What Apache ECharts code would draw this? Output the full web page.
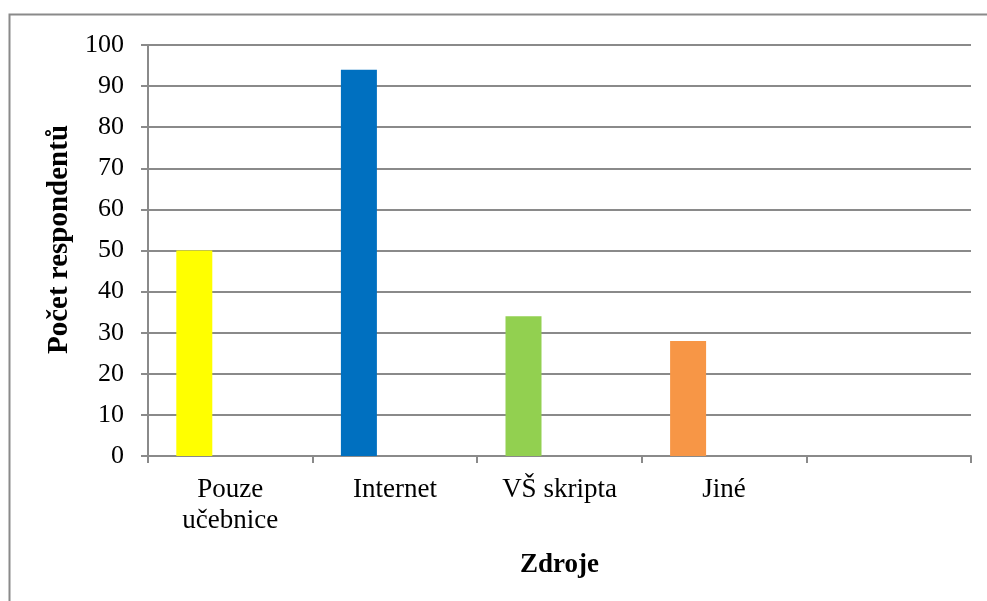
<!DOCTYPE html>
<html>
<head>
<meta charset="utf-8">
<script src="https://cdn.jsdelivr.net/npm/echarts@6/dist/echarts.min.js"></script>
<style>
  html, body { margin: 0; padding: 0; background: #fff; }
  #chart { width: 987px; height: 601px; }
</style>
</head>
<body>
<div id="chart"></div>
<script>
// kategorie a hodnoty (poslední kategorie je v originále prázdná)
const categories = ['Pouze\nučebnice', 'Internet', 'VŠ skripta', 'Jiné', '']
const values = [50, 94, 34, 28, '-']
const barColors = ['#FFFF00', '#0070C0', '#92D050', '#F79646', '#FFFFFF']
const emptySeries = ['-', '-', '-', '-', '-']

const yMin = 0
const yMax = 100
const yStep = 10

const gridGray = '#8a8a8a'
const font = '"Liberation Serif", "Times New Roman", serif'

const chart = echarts.init(document.getElementById('chart'), null, { renderer: 'canvas' })

chart.setOption({
  backgroundColor: '#fff',
  animation: false,
  graphic: [
    {
      // rámeček grafu (pravá a dolní hrana jsou mimo obrázek)
      type: 'rect',
      left: 7,
      top: 12,
      shape: { width: 1000, height: 620 },
      style: { fill: 'none', stroke: '#8a8a8a', lineWidth: 2 },
      silent: true
    }
  ],
  grid: {
    left: 148,
    top: 45,
    right: 16,
    bottom: 145
  },
  xAxis: {
    type: 'category',
    data: categories,
    boundaryGap: true,
    name: 'Zdroje',
    nameLocation: 'middle',
    nameGap: 96,
    nameTextStyle: {
      fontFamily: font,
      fontSize: 27,
      fontWeight: 'bold',
      color: '#000'
    },
    axisLine: { lineStyle: { color: gridGray, width: 2 } },
    axisTick: { show: true, length: 7, lineStyle: { color: gridGray, width: 2 } },
    axisLabel: {
      interval: 0,
      margin: 18,
      fontFamily: font,
      fontSize: 27,
      lineHeight: 31,
      color: '#000'
    }
  },
  yAxis: {
    type: 'value',
    min: yMin,
    max: yMax,
    interval: yStep,
    name: 'Počet respondentů',
    nameLocation: 'middle',
    nameGap: 72,
    nameTextStyle: {
      fontFamily: font,
      fontSize: 29,
      fontWeight: 'bold',
      color: '#000',
      padding: [0, 0, 0, 22]
    },
    axisLine: { show: true, lineStyle: { color: gridGray, width: 2 } },
    axisTick: { show: true, length: 7, lineStyle: { color: gridGray, width: 2 } },
    splitLine: { show: true, lineStyle: { color: gridGray, width: 2 } },
    axisLabel: {
      margin: 24,
      fontFamily: font,
      fontSize: 26,
      color: '#000'
    }
  },
  series: [
    {
      name: 'Zdroje',
      type: 'bar',
      barWidth: 36,
      barGap: '100%',
      data: values.map((v, i) => ({ value: v, itemStyle: { color: barColors[i] } }))
    },
    {
      // prázdná druhá řada – drží sloupce vlevo od středu kategorie jako v originále
      name: 'prázdná',
      type: 'bar',
      barWidth: 36,
      barGap: '100%',
      data: emptySeries
    }
  ]
})
</script>
</body>
</html>
